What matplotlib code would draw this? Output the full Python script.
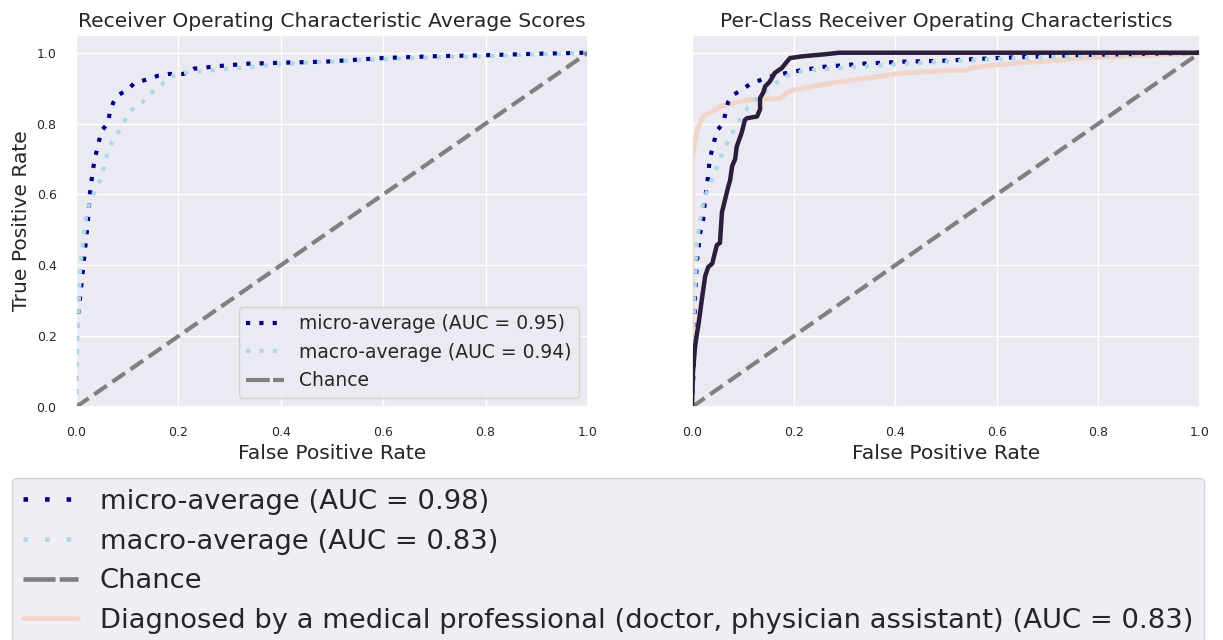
import matplotlib
matplotlib.use("Agg")
import matplotlib.pyplot as plt
from matplotlib.lines import Line2D
import seaborn as sns

# --- averaged ROC curves (left panel) ---
avg_micro_fpr = [0, 0, 0.008, 0.018, 0.023, 0.027, 0.033, 0.037, 0.043, 0.05, 0.062, 0.066,
                 0.073, 0.082, 0.10, 0.115, 0.14, 0.16, 0.18, 0.21, 0.23, 0.285, 0.336,
                 0.41, 0.49, 0.6, 0.7, 0.8, 0.9, 1.0]
avg_micro_tpr = [0, 0.2, 0.31, 0.45, 0.52, 0.60, 0.67, 0.70, 0.74, 0.78, 0.80, 0.83,
                 0.86, 0.88, 0.895, 0.915, 0.925, 0.935, 0.94, 0.94, 0.955, 0.963, 0.969,
                 0.972, 0.975, 0.985, 0.99, 0.993, 0.997, 1.0]
avg_macro_fpr = [0, 0.003, 0.008, 0.014, 0.02, 0.027, 0.037, 0.05, 0.06, 0.07, 0.084, 0.096,
                 0.11, 0.13, 0.145, 0.164, 0.18, 0.21, 0.3, 0.4, 0.5, 0.6, 0.7, 0.8, 0.9, 1.0]
avg_macro_tpr = [0, 0.2, 0.39, 0.47, 0.54, 0.58, 0.61, 0.65, 0.71, 0.745, 0.78, 0.81,
                 0.84, 0.86, 0.885, 0.905, 0.93, 0.943, 0.955, 0.968, 0.975, 0.982, 0.987,
                 0.99, 0.995, 1.0]
avg_micro_auc = 0.95
avg_macro_auc = 0.94

# --- per-class ROC curves (right panel) ---
cls_micro_fpr = [0, 0.003, 0.006, 0.01, 0.016, 0.022, 0.026, 0.03, 0.035, 0.042, 0.049, 0.061,
                 0.071, 0.08, 0.098, 0.118, 0.14, 0.16, 0.187, 0.213, 0.258, 0.337, 0.42,
                 0.49, 0.6, 0.75, 0.9, 1.0]
cls_micro_tpr = [0, 0.1, 0.32, 0.415, 0.49, 0.53, 0.59, 0.63, 0.70, 0.74, 0.78, 0.80,
                 0.86, 0.88, 0.895, 0.915, 0.925, 0.935, 0.943, 0.95, 0.96, 0.969, 0.975,
                 0.977, 0.985, 0.993, 0.997, 1.0]
cls_macro_fpr = [0, 0.004, 0.01, 0.016, 0.022, 0.032, 0.045, 0.055, 0.065, 0.075, 0.085, 0.094,
                 0.104, 0.11, 0.13, 0.157, 0.18, 0.2, 0.232, 0.325, 0.42, 0.6, 0.75, 0.9, 1.0]
cls_macro_tpr = [0, 0.3, 0.47, 0.53, 0.575, 0.62, 0.66, 0.70, 0.735, 0.76, 0.79, 0.81,
                 0.83, 0.845, 0.875, 0.905, 0.93, 0.943, 0.95, 0.96, 0.969, 0.982, 0.99,
                 0.996, 1.0]
cls_micro_auc = 0.98
cls_macro_auc = 0.83

diag_fpr = [0, 0, 0.004, 0.012, 0.022, 0.04, 0.06, 0.088, 0.11, 0.148, 0.173, 0.187, 0.2,
            0.238, 0.29, 0.364, 0.415, 0.455, 0.508, 0.54, 0.55, 0.6, 0.685, 0.77, 0.855,
            0.95, 1.0]
diag_tpr = [0, 0.7, 0.735, 0.79, 0.82, 0.835, 0.85, 0.86, 0.867, 0.87, 0.87, 0.887, 0.895,
            0.905, 0.918, 0.932, 0.943, 0.946, 0.95, 0.95, 0.957, 0.966, 0.975, 0.985, 0.99,
            0.995, 1.0]
diag_label = "Diagnosed by a medical professional (doctor, physician assistant)"
diag_auc = 0.83

other_fpr = [0, 0.002, 0.006, 0.01, 0.012, 0.02, 0.026, 0.032, 0.04, 0.045, 0.049, 0.055,
             0.059, 0.065, 0.071, 0.075, 0.079, 0.085, 0.088, 0.098, 0.104, 0.108, 0.128,
             0.134, 0.134, 0.14, 0.144, 0.153, 0.163, 0.177, 0.187, 0.193, 0.218, 0.258,
             0.29, 1.0]
other_tpr = [0, 0.1, 0.17, 0.21, 0.225, 0.31, 0.37, 0.395, 0.405, 0.435, 0.457, 0.463,
             0.55, 0.585, 0.62, 0.64, 0.68, 0.70, 0.735, 0.775, 0.81, 0.815, 0.82, 0.84,
             0.872, 0.887, 0.905, 0.918, 0.943, 0.957, 0.975, 0.985, 0.99, 0.995, 1.0, 1.0]

chance = [0, 1]

MICRO_C, MACRO_C, CHANCE_C = "navy", "lightblue", "gray"
DIAG_C, OTHER_C = "#f2d5c9", "#2b1d3b"

sns.set_theme(style="darkgrid")
plt.rcParams["font.family"] = ["DejaVu Sans"]

fig = plt.figure(figsize=(12.23, 6.4), dpi=100)
ax1 = fig.add_axes([76 / 1223, 1 - 407 / 640, 512 / 1223, 372 / 640])
ax2 = fig.add_axes([692 / 1223, 1 - 407 / 640, 508 / 1223, 372 / 640], sharey=ax1)

dot_style = dict(lw=3, dashes=(1, 2.2))
ax1.plot(avg_micro_fpr, avg_micro_tpr, color=MICRO_C, **dot_style)
ax1.plot(avg_macro_fpr, avg_macro_tpr, color=MACRO_C, **dot_style)
ax1.plot(chance, chance, ls="--", color=CHANCE_C, lw=3)

ax2.plot(cls_micro_fpr, cls_micro_tpr, color=MICRO_C, **dot_style)
ax2.plot(cls_macro_fpr, cls_macro_tpr, color=MACRO_C, **dot_style)
ax2.plot(chance, chance, ls="--", color=CHANCE_C, lw=3)
ax2.plot(diag_fpr, diag_tpr, color=DIAG_C, lw=3.5, zorder=1.9)
ax2.plot(other_fpr, other_tpr, color=OTHER_C, lw=3.2)

for ax, title in ((ax1, "Receiver Operating Characteristic Average Scores"),
                  (ax2, "Per-Class Receiver Operating Characteristics")):
    ax.set_xlim(0, 1)
    ax.set_ylim(0, 1.05)
    ax.set_xticks([0, 0.2, 0.4, 0.6, 0.8, 1.0])
    ax.set_yticks([0, 0.2, 0.4, 0.6, 0.8, 1.0])
    ax.tick_params(labelsize=9, pad=8)
    ax.set_title(title, fontsize=14.6, pad=6)
    ax.set_xlabel("False Positive Rate", fontsize=14.6, labelpad=3)

ax1.set_ylabel("True Positive Rate", fontsize=14.6)
ax2.tick_params(labelleft=False)

# legend keys for the averaged panel
left_handles = [
    Line2D([], [], color=MICRO_C, lw=3, dashes=(1, 2.2)),
    Line2D([], [], color=MACRO_C, lw=3, dashes=(1, 2.2)),
    Line2D([], [], color=CHANCE_C, lw=3, dashes=(5.7, 0.8)),
]
left_labels = [f"micro-average (AUC = {avg_micro_auc:.2f})",
               f"macro-average (AUC = {avg_macro_auc:.2f})",
               "Chance"]
ax1.legend(left_handles, left_labels, loc="lower right", fontsize=13.5)

# figure-level legend for the per-class panel
bottom_handles = [
    Line2D([], [], color=MICRO_C, lw=3.3, dashes=(1, 3.7)),
    Line2D([], [], color=MACRO_C, lw=3.3, dashes=(1, 3.7)),
    Line2D([], [], color=CHANCE_C, lw=3.3, dashes=(7, 0.9)),
    Line2D([], [], color=DIAG_C, lw=3.3),
]
bottom_labels = [f"micro-average (AUC = {cls_micro_auc:.2f})",
                 f"macro-average (AUC = {cls_macro_auc:.2f})",
                 "Chance",
                 f"{diag_label} (AUC = {diag_auc:.2f})"]
fig.legend(bottom_handles, bottom_labels, loc="upper left",
           bbox_to_anchor=(12 / 1223, 1 - 478 / 640),
           borderaxespad=0, fontsize=19.7, handlelength=2.0)

fig.savefig("out.png", dpi=100)
